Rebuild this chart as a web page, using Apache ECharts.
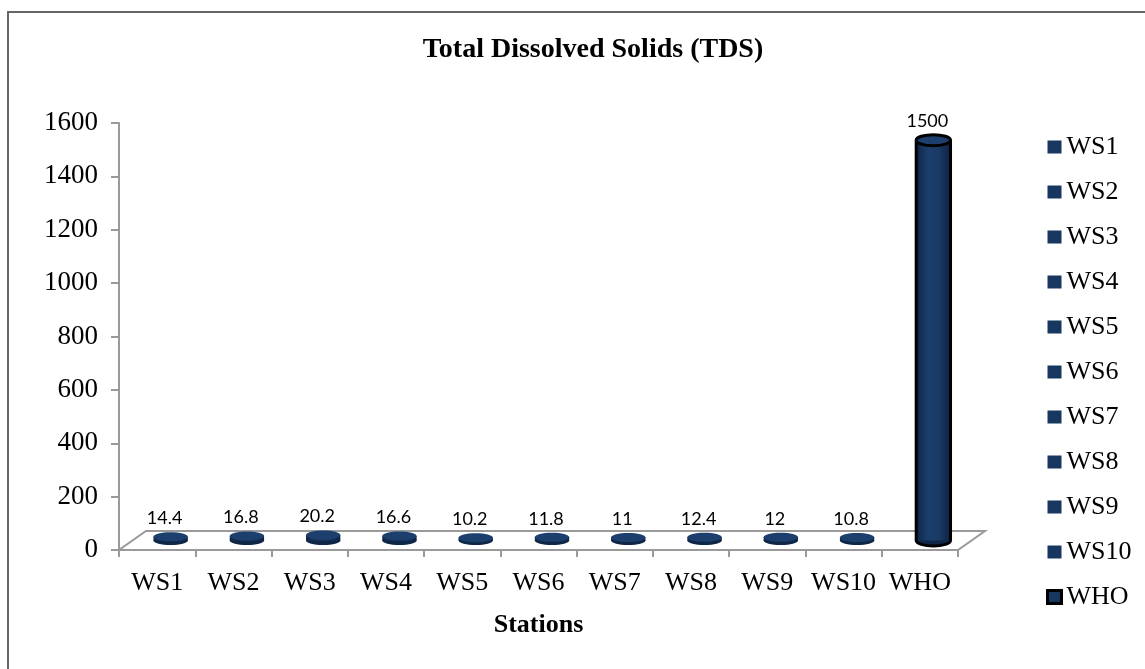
<!DOCTYPE html>
<html>
<head>
<meta charset="utf-8">
<script src="https://cdn.jsdelivr.net/npm/echarts@6/dist/echarts.min.js"></script>
<style>
  html, body { margin: 0; padding: 0; background: #fff; }
  #chart { width: 1145px; height: 669px; }
</style>
</head>
<body>
<div id="chart"></div>
<script>
// Stations and their TDS readings (mg/L); WHO is the guideline limit
const stations = ['WS1', 'WS2', 'WS3', 'WS4', 'WS5', 'WS6', 'WS7', 'WS8', 'WS9', 'WS10', 'WHO'];
const tdsValues = [14.4, 16.8, 20.2, 16.6, 10.2, 11.8, 11, 12.4, 12, 10.8, 1500];
const yMin = 0, yMax = 1600, yStep = 200;

const SERIF = '"Liberation Serif", "Times New Roman", serif';
const NAVY = '#17375E';
// Floor depth of the pseudo-3D plot area
const DEPTH_X = 27, DEPTH_Y = -19;

// Floor slab drawn from the grid's own rectangle
function renderFloor(params, api) {
  const c = params.coordSys;
  const fy = c.y + c.height;
  return {
    type: 'polygon',
    shape: { points: [[c.x, fy], [c.x + c.width, fy], [c.x + c.width + DEPTH_X, fy + DEPTH_Y], [c.x + DEPTH_X, fy + DEPTH_Y]] },
    style: { fill: '#fff', stroke: '#9a9a9a', lineWidth: 2 },
    silent: true
  };
}

// One cylinder per station, standing at mid-depth on the floor
function makeCylinder(outlined) {
  return function (params, api) {
    const idx = api.value(0), val = api.value(1);
    const base = api.coord([idx, 0]);
    const top = api.coord([idx, val]);
    const band = api.size([1, 0])[0];
    const cx = base[0] + DEPTH_X / 2;
    const y0 = base[1] + DEPTH_Y / 2;
    const y1 = top[1] + DEPTH_Y / 2;
    const rx = band * 0.225;
    const ry = outlined ? 5.5 : 4.5;
    const stroke = outlined ? '#000' : null;
    const lw = outlined ? 3 : 0;
    const bodyFill = new echarts.graphic.LinearGradient(0, 0, 1, 0, [
      { offset: 0, color: '#0e2545' },
      { offset: 0.35, color: '#1c3e6c' },
      { offset: 0.65, color: '#1a3a66' },
      { offset: 1, color: '#0d2242' }
    ]);
    const children = [
      { type: 'ellipse', shape: { cx: cx, cy: y0, rx: rx, ry: ry },
        style: { fill: '#0f2747', stroke: stroke, lineWidth: lw } },
      { type: 'rect', shape: { x: cx - rx, y: y1, width: rx * 2, height: Math.max(0, y0 - y1) },
        style: { fill: bodyFill } }
    ];
    if (outlined) {
      children.push(
        { type: 'line', shape: { x1: cx - rx, y1: y1, x2: cx - rx, y2: y0 }, style: { stroke: '#000', lineWidth: 3 } },
        { type: 'line', shape: { x1: cx + rx, y1: y1, x2: cx + rx, y2: y0 }, style: { stroke: '#000', lineWidth: 3 } }
      );
    }
    children.push(
      { type: 'ellipse', shape: { cx: cx, cy: y1, rx: rx, ry: ry },
        style: { fill: '#1d3f6d', stroke: stroke, lineWidth: lw } },
      { type: 'text',
        style: { text: String(val), x: cx - 6, y: y1 - ry - 5, textAlign: 'center', textVerticalAlign: 'bottom',
                 font: '18px Lato, "Open Sans", sans-serif', fill: '#000' } }
    );
    return { type: 'group', children: children };
  };
}

const seriesList = [{
  type: 'custom',
  name: 'floor',
  data: [[0, 0]],
  renderItem: renderFloor,
  z: 1,
  silent: true,
  tooltip: { show: false }
}].concat(stations.map(function (name, i) {
  return {
    type: 'custom',
    name: name,
    data: [[i, tdsValues[i]]],
    renderItem: makeCylinder(name === 'WHO'),
    itemStyle: { color: NAVY },
    z: 3
  };
}));

const legendData = stations.map(function (name) {
  return name === 'WHO'
    ? { name: name, itemStyle: { color: NAVY, borderColor: '#000', borderWidth: 3 } }
    : { name: name };
});

const chart = echarts.init(document.getElementById('chart'), null, { renderer: 'canvas' });
chart.setOption({
  animation: false,
  backgroundColor: '#fff',
  graphic: [{
    type: 'rect',
    shape: { x: 8, y: 12, width: 1300, height: 800 },
    style: { fill: 'none', stroke: '#666', lineWidth: 2 },
    silent: true,
    z: -10
  }],
  title: {
    text: 'Total Dissolved Solids (TDS)',
    left: 588,
    textAlign: 'center',
    top: 31,
    textStyle: { fontFamily: SERIF, fontSize: 28, fontWeight: 'bold', color: '#000' }
  },
  legend: {
    orient: 'vertical',
    left: 1041,
    top: 129,
    icon: 'rect',
    itemWidth: 14,
    itemHeight: 13,
    itemGap: 19,
    data: legendData,
    textStyle: { fontFamily: SERIF, fontSize: 26, lineHeight: 25, color: '#000' }
  },
  grid: { left: 119, right: 187, top: 123, bottom: 119, containLabel: false },
  xAxis: {
    type: 'category',
    data: stations,
    boundaryGap: true,
    axisLine: { show: true, lineStyle: { color: '#9a9a9a', width: 2 } },
    axisTick: { show: true, alignWithLabel: false, length: 7, lineStyle: { color: '#9a9a9a', width: 2 } },
    axisLabel: { fontFamily: SERIF, fontSize: 26, color: '#000', margin: 20, interval: 0 },
    name: 'Stations',
    nameLocation: 'middle',
    nameGap: 62,
    nameTextStyle: { fontFamily: SERIF, fontSize: 26, fontWeight: 'bold', color: '#000' },
    z: 2
  },
  yAxis: {
    type: 'value',
    min: yMin,
    max: yMax,
    interval: yStep,
    axisLine: { show: true, lineStyle: { color: '#9a9a9a', width: 2 } },
    axisTick: { show: true, length: 8, lineStyle: { color: '#9a9a9a', width: 2 } },
    axisLabel: { fontFamily: SERIF, fontSize: 27, color: '#000', margin: 21, formatter: function (v) { return String(v); } },
    splitLine: { show: false }
  },
  series: seriesList
});
</script>
</body>
</html>
